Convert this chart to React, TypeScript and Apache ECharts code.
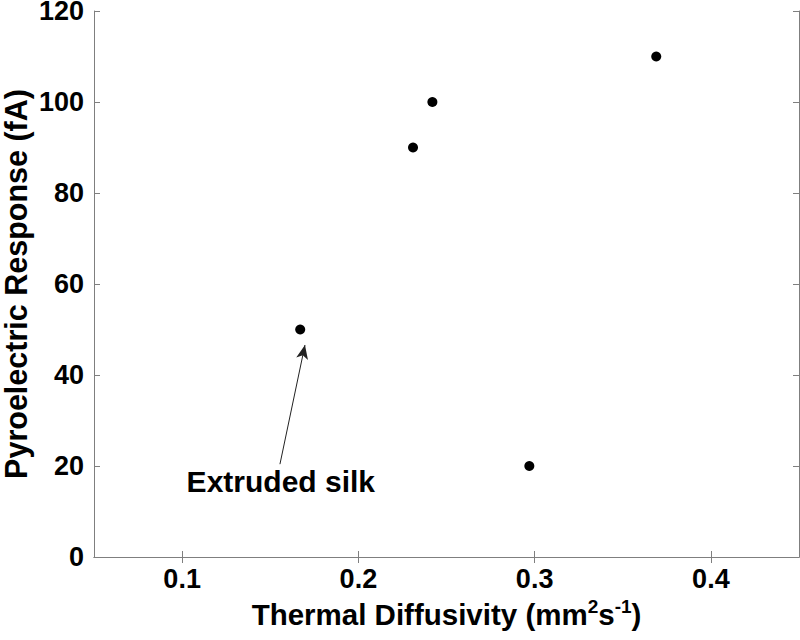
import React, { useEffect, useRef } from "react";
import * as echarts from "echarts";

const diffusivity = [0.167, 0.231, 0.242, 0.297, 0.369];
const response = [50, 90, 100, 20, 110];
const xTicks = [0.1, 0.2, 0.3, 0.4];
const yTicks = [0, 20, 40, 60, 80, 100, 120];
const arrowFrom = [0.1555, 20.4];
const arrowTo = [0.1697, 46.6];
const annotationPos = [0.156, 16.5];
const annotationText = "Extruded silk";

const FONT = "Liberation Sans, Arial, sans-serif";

export default function App() {
  const ref = useRef<HTMLDivElement>(null);
  useEffect(() => {
    if (!ref.current) return;
    const chart = echarts.init(ref.current, undefined, { renderer: "svg" });
    const axisLine = { show: true, lineStyle: { color: "#7f7f7f", width: 1 } };
    const axisTickX = { show: true, inside: true, length: 6, customValues: xTicks, lineStyle: { color: "#7f7f7f", width: 1 } };
    const axisTickY = { show: true, inside: true, length: 6, customValues: yTicks, lineStyle: { color: "#7f7f7f", width: 1 } };
    const labelStyle = { fontFamily: FONT, fontWeight: "bold" as const, fontSize: 27, color: "#000" };
    const xBase = { type: "value" as const, min: 0.05, max: 0.45, splitLine: { show: false }, axisLine, axisTick: axisTickX };
    const yBase = { type: "value" as const, min: 0, max: 120, interval: 20, splitLine: { show: false }, axisLine, axisTick: axisTickY };
    chart.setOption({
      animation: false,
      backgroundColor: "#fff",
      grid: { left: 94, top: 11, right: 1, bottom: 83, containLabel: false, outerBoundsMode: "none" },
      xAxis: [
        {
          ...xBase,
          position: "bottom",
          axisLabel: { ...labelStyle, margin: 8, customValues: xTicks, formatter: (v: number) => v.toFixed(1) },
          name: "Thermal Diffusivity (mm{sup|2}s{sup|-1})",
          nameLocation: "middle",
          nameGap: 38,
          nameTextStyle: {
            fontFamily: FONT, fontWeight: "bold", fontSize: 29.5, color: "#000",
            rich: { sup: { fontFamily: FONT, fontWeight: "bold", fontSize: 19, color: "#000", verticalAlign: "top", padding: [0, 0, 16, 0] } },
          },
        },
        { ...xBase, position: "top", axisLabel: { show: false } },
      ],
      yAxis: [
        {
          ...yBase,
          position: "left",
          axisLabel: { ...labelStyle, margin: 10, customValues: yTicks },
          name: "Pyroelectric Response (fA)",
          nameLocation: "middle",
          nameGap: 63,
          nameMoveOverlap: false,
          nameTextStyle: { fontFamily: FONT, fontWeight: "bold", fontSize: 30.5, color: "#000" },
        },
        { ...yBase, position: "right", axisLabel: { show: false } },
      ],
      series: [
        {
          type: "scatter",
          xAxisIndex: 0,
          yAxisIndex: 0,
          symbol: "circle",
          symbolSize: 10,
          itemStyle: { color: "#000", opacity: 1 },
          data: diffusivity.map((x, i) => [x, response[i]]),
          markLine: {
            silent: true,
            symbol: ["none", "arrow"],
            symbolSize: [9, 14],
            lineStyle: { color: "#222", width: 1, type: "solid" },
            label: { show: false },
            data: [[{ coord: arrowFrom }, { coord: arrowTo }]],
          },
          markPoint: {
            silent: true,
            symbol: "circle",
            symbolSize: 0,
            itemStyle: { color: "transparent" },
            label: { show: true, position: "inside", formatter: annotationText, fontFamily: FONT, fontWeight: "bold", fontSize: 30, color: "#000" },
            data: [{ coord: annotationPos }],
          },
        },
      ],
    });
    return () => chart.dispose();
  }, []);
  return <div ref={ref} style={{ position: "absolute", left: 0, top: 0, width: 800, height: 640 }} />;
}
